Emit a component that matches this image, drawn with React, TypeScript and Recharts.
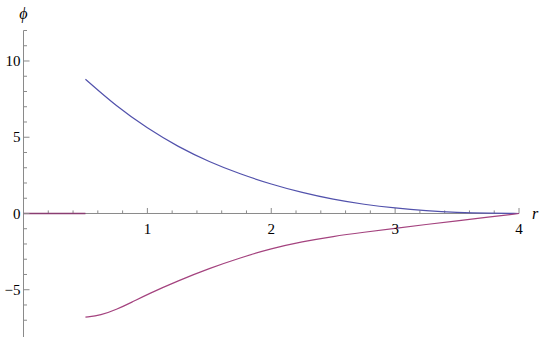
import { LineChart, Line, XAxis, YAxis, ReferenceLine } from "recharts";

// upper branch of phi(r)
const upperR = [0.5, 0.75, 1, 1.25, 1.5, 1.75, 2, 2.25, 2.5, 2.75, 3, 3.25, 3.5, 3.75, 4];
const upperPhi = [8.8, 7.02, 5.58, 4.36, 3.38, 2.58, 1.92, 1.36, 0.92, 0.59, 0.35, 0.18, 0.07, 0.015, 0];

// lower branch of phi(r)
const lowerR = [0.5, 0.625, 0.75, 0.875, 1, 1.25, 1.5, 1.75, 2, 2.25, 2.5, 2.75, 3, 3.25, 3.5, 3.75, 4];
const lowerPhi = [-6.8, -6.68, -6.3, -5.82, -5.3, -4.4, -3.6, -2.9, -2.3, -1.85, -1.5, -1.23, -0.97, -0.72, -0.48, -0.24, 0];

// trivial branch on the axis
const flatR = [0, 0.5];
const flatPhi = [0, 0];

const xMajorTicks = [1, 2, 3, 4];
const xMinorTicks = [0.2, 0.4, 0.6, 0.8, 1.2, 1.4, 1.6, 1.8, 2.2, 2.4, 2.6, 2.8, 3.2, 3.4, 3.6, 3.8];
const yTicks = [-7, -6, -5, -4, -3, -2, -1, 0, 1, 2, 3, 4, 5, 6, 7, 8, 9, 10, 11, 12];
const yLabelled = [-5, 0, 5, 10];

const upperData = upperR.map((r, i) => ({ r, phi: upperPhi[i] }));
const lowerData = lowerR.map((r, i) => ({ r, phi: lowerPhi[i] }));
const flatData = flatR.map((r, i) => ({ r, phi: flatPhi[i] }));

const AXIS = "#8a8a8a";
const FONT = "Liberation Serif, serif";
const TEXT = "#000";

const fmt = (v: number) => (v < 0 ? "\u2212" + Math.abs(v) : String(v));

function PhiTick(props: any) {
  const { x, y, payload } = props;
  const major = yLabelled.includes(payload.value);
  return (
    <g>
      <line x1={x} x2={x + (major ? 6 : 3.5)} y1={y} y2={y} stroke={AXIS} />
      {major ? (
        <text x={x - 3} y={y} dy="0.35em" textAnchor="end" style={{ fontFamily: FONT, fontSize: 15 }} fill={TEXT}>
          {fmt(payload.value)}
        </text>
      ) : null}
    </g>
  );
}

export default function App() {
  return (
    <div style={{ position: "absolute", left: 0, top: 0 }}>
      <LineChart width={540} height={337} margin={{ top: 30.5, right: 21, bottom: 0, left: 0 }}>
        <XAxis dataKey="r" type="number" domain={[0, 4]} hide allowDataOverflow />
        <YAxis
          type="number"
          domain={[-8.1, 12]}
          ticks={yTicks}
          interval={0}
          width={23.5}
          axisLine={false}
          tickLine={false}
          tickSize={0}
          tickMargin={0}
          tick={<PhiTick />}
          allowDataOverflow
        />
        <ReferenceLine
          x={0}
          stroke={AXIS}
          ifOverflow="visible"
          label={{ value: "\u03d5", position: "top", offset: 12, fontFamily: FONT, fontSize: 16, fontStyle: "italic", fill: TEXT }}
        />
        <ReferenceLine
          y={0}
          stroke={AXIS}
          ifOverflow="visible"
          label={{ value: "r", position: "right", offset: 13, fontFamily: FONT, fontSize: 16, fontStyle: "italic", fill: TEXT }}
        />
        {xMinorTicks.map((t) => (
          <ReferenceLine key={"m" + t} segment={[{ x: t, y: 0 }, { x: t, y: 0.2 }]} stroke={AXIS} ifOverflow="visible" />
        ))}
        {xMajorTicks.map((t) => (
          <ReferenceLine
            key={"M" + t}
            segment={[{ x: t, y: 0 }, { x: t, y: 0.36 }]}
            stroke={AXIS}
            ifOverflow="visible"
            label={{ value: fmt(t), position: "bottom", offset: 10, fontFamily: FONT, fontSize: 15, fill: TEXT }}
          />
        ))}
        <Line data={flatData} dataKey="phi" type="linear" stroke="#8a3d72" strokeWidth={1.3} dot={false} isAnimationActive={false} />
        <Line data={upperData} dataKey="phi" type="basis" stroke="#5252ac" strokeWidth={1.2} dot={false} isAnimationActive={false} />
        <Line data={lowerData} dataKey="phi" type="basis" stroke="#a4437f" strokeWidth={1.2} dot={false} isAnimationActive={false} />
      </LineChart>
    </div>
  );
}
